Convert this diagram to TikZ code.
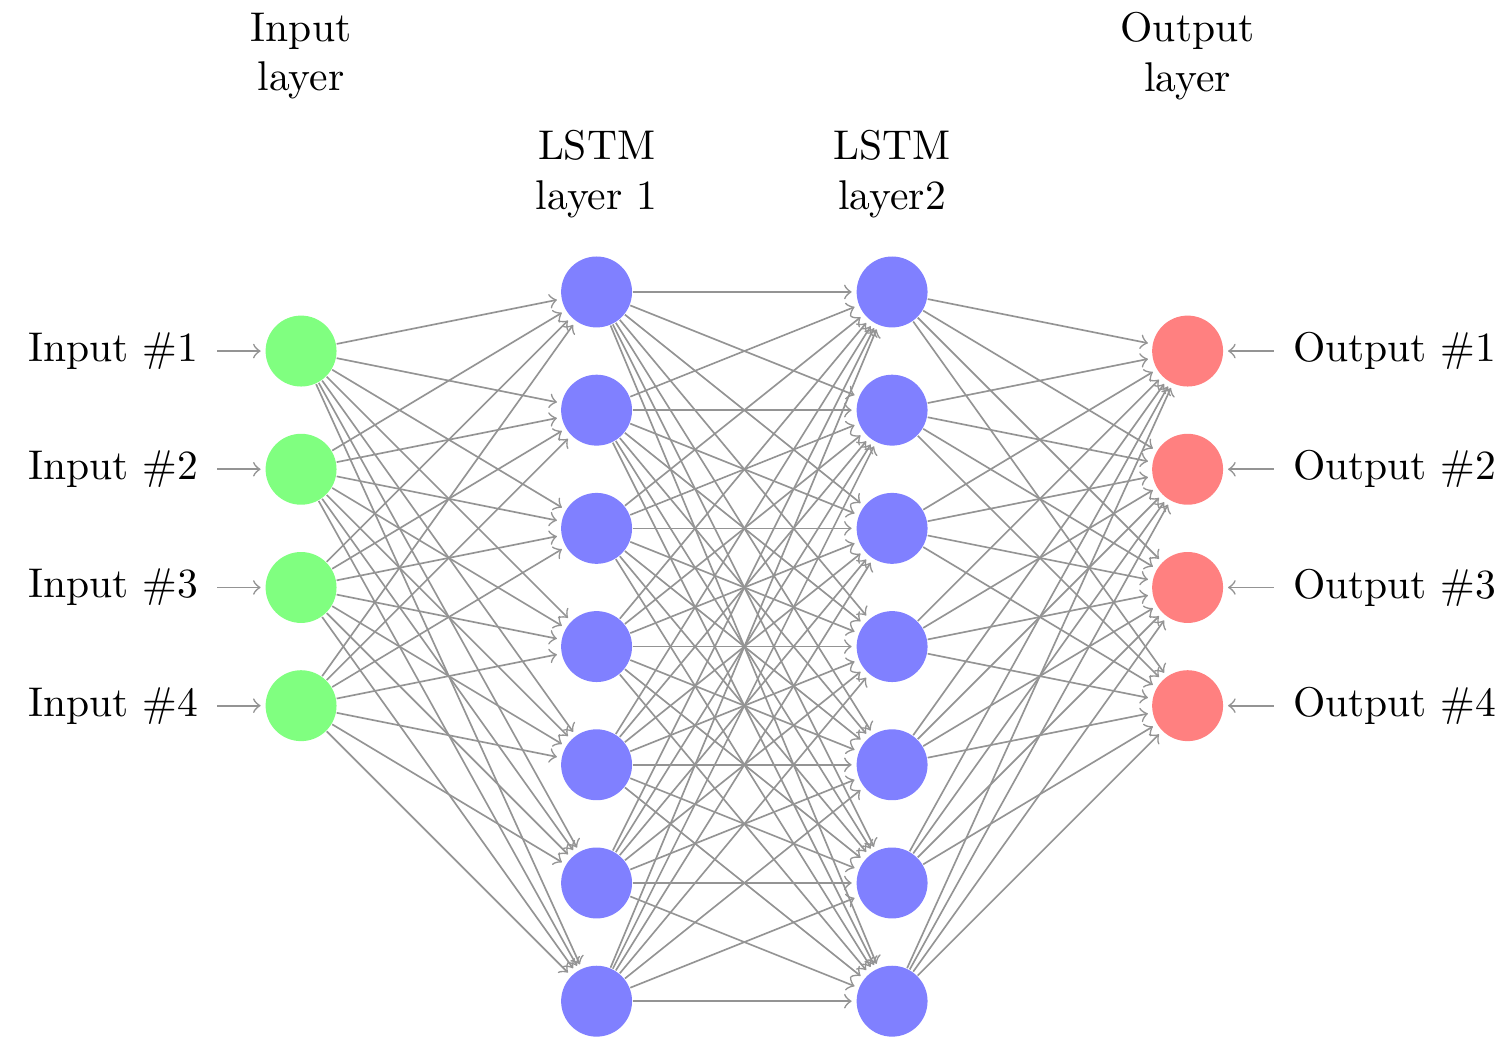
\documentclass[tikz,border=0pt]{standalone}
\begin{document}
\begin{tikzpicture}[shorten >=1pt,->,draw=black!42,
  every pin edge/.style={<-,shorten <=1pt},
  neuron/.style={circle,fill=black!25,minimum size=0.6cm,inner sep=0pt},
  inneuron/.style={neuron,fill=green!50},
  outneuron/.style={neuron,fill=red!50},
  hidneuron/.style={neuron,fill=blue!50},
  annot/.style={text width=4em,align=center}]
  % page frame
  \useasboundingbox (0,0) rectangle (12.766,-8.773);
  \def\xin{2.547}
  \def\layersep{2.5}
  % input layer
  \begin{scope}[pin distance=2.9ex]
  \foreach \n in {1,...,4}
    \node[inneuron,pin=left:Input \#\n] (I-\n) at (\xin,{-2.97-(\n-1)}) {};
  \end{scope}
  % two LSTM layers
  \foreach \n in {1,...,7}
    \node[hidneuron] (A-\n) at ({\xin+\layersep},{-2.47-(\n-1)}) {};
  \foreach \n in {1,...,7}
    \node[hidneuron] (B-\n) at ({\xin+2*\layersep},{-2.47-(\n-1)}) {};
  % output layer
  \begin{scope}[pin distance=3.05ex]
  \foreach \n in {1,...,4}
    \node[outneuron,pin={[pin edge={<-}]right:Output \#\n}] (O-\n) at ({\xin+3*\layersep},{-2.97-(\n-1)}) {};
  \end{scope}
  % full connections
  \foreach \s in {1,...,4}
    \foreach \d in {1,...,7}
      \path (I-\s) edge (A-\d);
  \foreach \s in {1,...,7}
    \foreach \d in {1,...,7}
      \path (A-\s) edge (B-\d);
  \foreach \s in {1,...,7}
    \foreach \d in {1,...,4}
      \path (B-\s) edge (O-\d);
  % layer titles
  \node[annot] (tI) at (\xin,-0.475) {Input layer};
  \node[annot] (tA) at ({\xin+\layersep},-1.475) {LSTM layer 1};
  \node[annot] (tB) at ({\xin+2*\layersep},-1.475) {LSTM layer2};
  \node[annot] (tO) at ({\xin+3*\layersep},-0.475) {Output layer};
\end{tikzpicture}
\end{document}
